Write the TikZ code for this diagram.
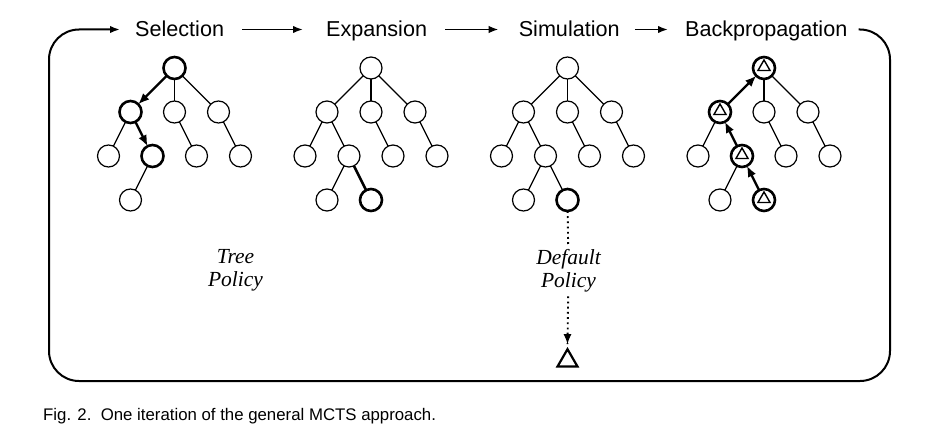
\documentclass[tikz,border=0pt]{standalone}
\usepackage{fontspec}
\setmainfont{Liberation Sans}
\newfontfamily\polfont{Liberation Serif}
\usetikzlibrary{arrows.meta,shapes.geometric}
\begin{document}
\begin{tikzpicture}[x=1pt,y=-1pt,
  nd/.style={circle,draw,line width=1.2pt,minimum size=22pt,inner sep=0pt,outer sep=0pt,fill=white},
  bnd/.style={nd,line width=2.6pt},
  edge/.style={line width=1.2pt},
  bedge/.style={line width=2.6pt},
  barrow/.style={line width=2.4pt,-{Latex[length=11pt,width=9pt]}},
  title/.style={font=\fontsize{21.6}{24}\selectfont,inner sep=0pt,anchor=base west},
  flow/.style={line width=1.8pt,-{Latex[length=10pt,width=7.5pt]}},
  tri/.style={regular polygon,regular polygon sides=3,draw,inner sep=0pt,outer sep=0pt,minimum size=14pt,line width=1.4pt},
  bigtri/.style={regular polygon,regular polygon sides=3,draw,inner sep=0pt,outer sep=0pt,minimum size=23pt,line width=2.2pt},
  policy/.style={font=\polfont\itshape\fontsize{21.5}{23.5}\selectfont,align=center,inner sep=4pt},
  dots/.style={line width=1.9pt,dash pattern=on 1.8pt off 3.4pt}
]
\useasboundingbox (0,0) rectangle (930,436);

% titles
\node[title] (sel) at (135,36.7) {Selection};
\node[title] (exp) at (326,36.7) {Expansion};
\node[title] (sim) at (518.6,36.7) {Simulation};
\node[title] (bp) at (685,36.7) {Backpropagation};
\draw[flow] ([xshift=18pt,yshift=7.2pt]sel.base east) -- ([xshift=-23pt,yshift=7.2pt]exp.base west);
\draw[flow] ([xshift=18pt,yshift=7.2pt]exp.base east) -- ([xshift=-20pt,yshift=7.2pt]sim.base west);
\draw[flow] ([xshift=15pt,yshift=7.2pt]sim.base east) -- ([xshift=-17pt,yshift=7.2pt]bp.base west);

% outer loop
\coordinate (c1) at (890,29.5);
\coordinate (c2) at (890,381);
\coordinate (c3) at (49,381);
\coordinate (c4) at (49,29.5);
\draw[line width=2pt,rounded corners=30pt,-{Latex[length=10pt,width=7.5pt]}]
  ([xshift=11pt,yshift=7.2pt]bp.base east) -- (c1) -- (c2) -- (c3) -- (c4) -- ([xshift=-15pt,yshift=7.2pt]sel.base west);

% ---------- Selection tree ----------
\node[bnd] (s-r) at (174.5,68) {};
\node[bnd] (s-a) at (130.5,112) {};
\node[nd] (s-b) at (174.5,112) {};
\node[nd] (s-c) at (218.5,112) {};
\node[nd] (s-d) at (108.5,156) {};
\node[bnd] (s-e) at (152.5,156) {};
\node[nd] (s-f) at (196.5,156) {};
\node[nd] (s-g) at (240.5,156) {};
\node[nd] (s-h) at (130.5,200) {};
\draw[barrow] (s-r) -- (s-a);
\draw[edge] (s-r) -- (s-b);
\draw[edge] (s-r) -- (s-c);
\draw[edge] (s-a) -- (s-d);
\draw[barrow] (s-a) -- (s-e);
\draw[edge] (s-b) -- (s-f);
\draw[edge] (s-c) -- (s-g);
\draw[edge] (s-e) -- (s-h);

% ---------- Expansion tree ----------
\node[nd] (e-r) at (371,68) {};
\node[nd] (e-a) at (327,112) {};
\node[nd] (e-b) at (371,112) {};
\node[nd] (e-c) at (415,112) {};
\node[nd] (e-d) at (305,156) {};
\node[nd] (e-e) at (349,156) {};
\node[nd] (e-f) at (393,156) {};
\node[nd] (e-g) at (437,156) {};
\node[nd] (e-h) at (327,200) {};
\node[bnd] (e-i) at (371,200) {};
\draw[edge] (e-r) -- (e-a);
\draw[edge] (e-r) -- (e-b);
\draw[edge] (e-r) -- (e-c);
\draw[edge] (e-a) -- (e-d);
\draw[edge] (e-a) -- (e-e);
\draw[edge] (e-b) -- (e-f);
\draw[edge] (e-c) -- (e-g);
\draw[edge] (e-e) -- (e-h);
\draw[bedge] (e-e) -- (e-i);

% ---------- Simulation tree ----------
\node[nd] (m-r) at (567.5,68) {};
\node[nd] (m-a) at (523.5,112) {};
\node[nd] (m-b) at (567.5,112) {};
\node[nd] (m-c) at (611.5,112) {};
\node[nd] (m-d) at (501.5,156) {};
\node[nd] (m-e) at (545.5,156) {};
\node[nd] (m-f) at (589.5,156) {};
\node[nd] (m-g) at (633.5,156) {};
\node[nd] (m-h) at (523.5,200) {};
\node[bnd] (m-i) at (567.5,200) {};
\draw[edge] (m-r) -- (m-a);
\draw[edge] (m-r) -- (m-b);
\draw[edge] (m-r) -- (m-c);
\draw[edge] (m-a) -- (m-d);
\draw[edge] (m-a) -- (m-e);
\draw[edge] (m-b) -- (m-f);
\draw[edge] (m-c) -- (m-g);
\draw[edge] (m-e) -- (m-h);
\draw[edge] (m-e) -- (m-i);

% ---------- Backpropagation tree ----------
\node[bnd] (b-r) at (764,68) {};
\node[bnd] (b-a) at (720,112) {};
\node[nd] (b-b) at (764,112) {};
\node[nd] (b-c) at (808,112) {};
\node[nd] (b-d) at (698,156) {};
\node[bnd] (b-e) at (742,156) {};
\node[nd] (b-f) at (786,156) {};
\node[nd] (b-g) at (830,156) {};
\node[nd] (b-h) at (720,200) {};
\node[bnd] (b-i) at (764,200) {};
\draw[barrow] (b-a) -- (b-r);
\draw[edge] (b-r) -- (b-b);
\draw[edge] (b-r) -- (b-c);
\draw[edge] (b-a) -- (b-d);
\draw[barrow] (b-e) -- (b-a);
\draw[edge] (b-b) -- (b-f);
\draw[edge] (b-c) -- (b-g);
\draw[edge] (b-e) -- (b-h);
\draw[barrow] (b-i) -- (b-e);
\node[tri] (t-r) at ([yshift=1pt]b-r.center) {};
\node[tri] (t-a) at ([yshift=1pt]b-a.center) {};
\node[tri] (t-e) at ([yshift=1pt]b-e.center) {};
\node[tri] (t-i) at ([yshift=1pt]b-i.center) {};

% policies
\node[policy] (tp) at (235.5,270.5) {Tree\\Policy};
\node[policy] (dp) at (568.5,270.5) {Default\\Policy};
\node[bigtri] (end) at (567.5,360.7) {};
\draw[dots] (m-i) -- (dp);
\draw[dots] (dp) -- ([yshift=5pt]end.north) ;
\draw[-{Latex[length=10pt,width=8pt]},line width=1.6pt] ([yshift=14pt]end.north) -- ([yshift=5pt]end.north);

% caption
\node[anchor=base west,inner sep=0pt,font=\fontsize{16.8}{20}\selectfont] (cap) at (43,420) {Fig. 2.\ \ One iteration of the general MCTS approach.};
\end{tikzpicture}
\end{document}
